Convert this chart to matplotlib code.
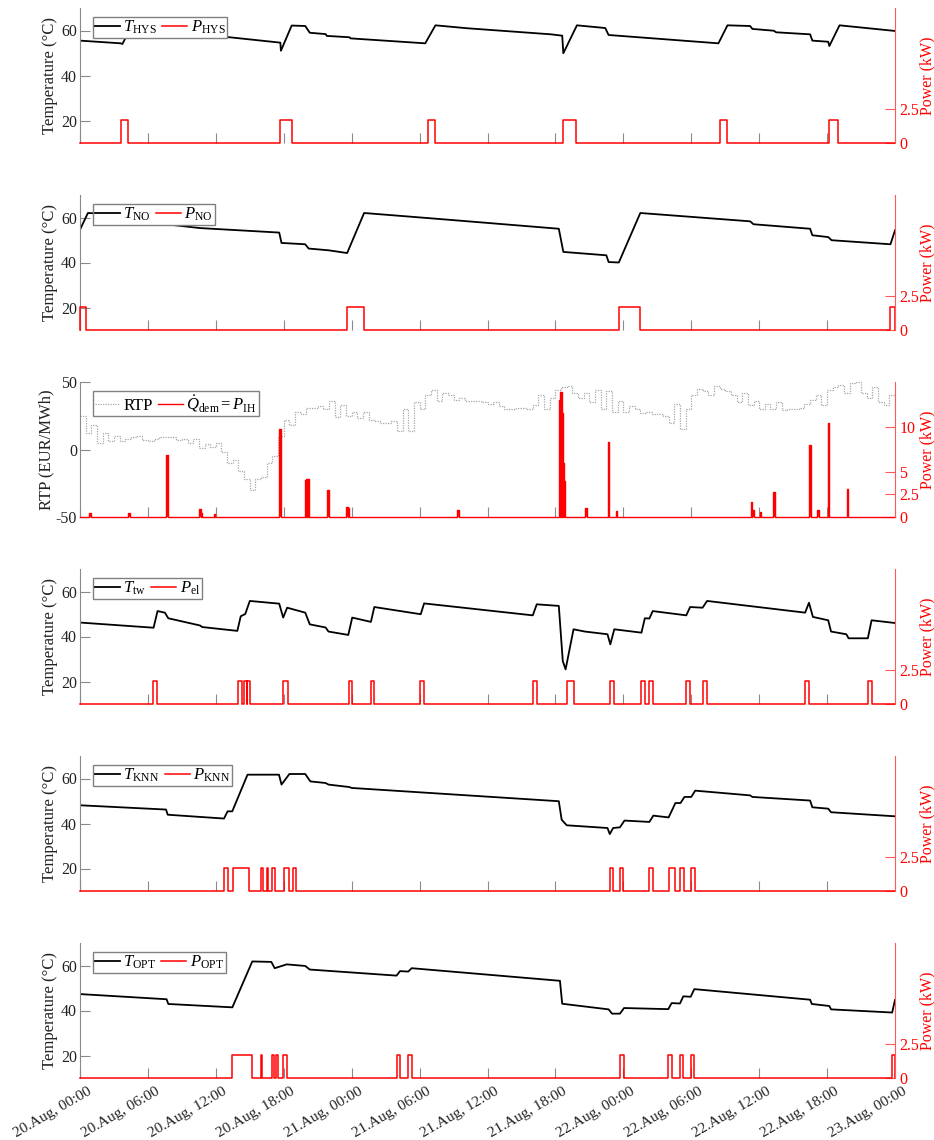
import matplotlib
matplotlib.use("Agg")
import matplotlib.pyplot as plt
import matplotlib.transforms as mtransforms

plt.rcParams['font.family'] = ['Liberation Serif', 'DejaVu Serif']
plt.rcParams['mathtext.fontset'] = 'custom'
plt.rcParams['mathtext.rm'] = 'Liberation Serif'
plt.rcParams['mathtext.it'] = 'Liberation Serif:italic'
plt.rcParams['mathtext.bf'] = 'Liberation Serif:bold'
plt.rcParams['axes.unicode_minus'] = False

# ---------------- data (hours since 20.Aug 00:00) ----------------
xtick_hours = [0, 6, 12, 18, 24, 30, 36, 42, 48, 54, 60, 66, 72]
xtick_labels = ["20.Aug, 00:00", "20.Aug, 06:00", "20.Aug, 12:00", "20.Aug, 18:00",
                "21.Aug, 00:00", "21.Aug, 06:00", "21.Aug, 12:00", "21.Aug, 18:00",
                "22.Aug, 00:00", "22.Aug, 06:00", "22.Aug, 12:00", "22.Aug, 18:00",
                "23.Aug, 00:00"]

P_ON = 1.7  # kW heating element power

# Panel 1: hysteresis
hys_t = [0, 3.6, 3.75, 4.3, 4.5, 13.2, 17.7, 17.75, 18.7, 19.9, 20.3, 21.7, 21.8, 23.8, 23.9,
         30.5, 31.4, 34.2, 41.6, 42.6, 42.7, 43.9, 46.4, 46.7, 56.4, 57.2, 59.2, 59.4, 61.3,
         61.5, 64.5, 64.7, 66.1, 66.2, 67.1, 72]
hys_T = [55.5, 54.3, 54.0, 59.5, 61.8, 57.0, 54.6, 51.0, 62.2, 62.0, 59.0, 58.4, 57.6, 57.0, 56.5,
         54.3, 62.3, 61.0, 58.3, 57.7, 49.9, 62.3, 61.1, 58.0, 54.3, 62.3, 62.0, 60.7, 59.9,
         59.2, 58.3, 55.5, 55.0, 53.1, 62.3, 59.8]
hys_on = [3.6, 17.7, 30.7, 42.65, 56.5, 66.2]
hys_off = [4.26, 18.7, 31.4, 43.85, 57.2, 67.0]

# Panel 2: no control (night tariff)
no_t = [0, 0.7, 1.2, 7.6, 10.6, 17.6, 17.8, 19.9, 20.2, 22.0, 23.6, 25.1, 29.6, 33.3, 42.3,
        42.7, 46.5, 46.7, 47.6, 49.5, 59.2, 59.5, 64.5, 64.7, 66.1, 66.4, 71.6, 72.0]
no_T = [54.6, 62.0, 61.9, 57.0, 55.3, 53.3, 48.7, 48.1, 46.2, 45.4, 44.2, 62.0, 60.2, 58.7, 55.0,
        44.7, 43.2, 40.2, 40.0, 62.0, 58.3, 57.0, 55.0, 52.1, 51.3, 49.9, 48.1, 54.3]
no_on = [0.0, 23.6, 47.6, 71.6]
no_off = [0.55, 25.1, 49.5, 72.0]

# Panel 3: real-time price and heat demand
rtp_t = [i * 0.5 for i in range(145)]
rtp = [25, 12, 18, 5, 12, 6, 10, 6, 8, 9, 10, 7, 6, 8, 9, 9, 9, 7, 8, 5,
       8, 1, 4, 2, 5, -2, -10, -8, -16, -22, -30, -22, -20, -10, -5, 10, 22, 18, 28, 26,
       31, 31, 32, 30, 36, 24, 33, 25, 28, 23, 28, 22, 21, 20, 20, 21, 14, 30, 14, 35,
       30, 40, 44, 36, 42, 40, 37, 38, 36, 36, 36, 35, 34, 35, 32, 30, 30, 31, 31, 30,
       33, 40, 30, 38, 44, 46, 47, 42, 38, 42, 35, 44, 30, 43, 28, 36, 28, 32, 30, 27,
       28, 26, 26, 25, 20, 34, 15, 30, 40, 45, 43, 40, 47, 45, 43, 40, 35, 42, 33, 36,
       30, 34, 30, 35, 29, 30, 30, 31, 34, 37, 40, 33, 44, 46, 48, 42, 49, 50, 42, 38,
       46, 35, 33, 40, 25]
dem_t = [0.88, 4.33, 7.7, 10.6, 10.75, 11.87, 17.67, 19.96, 20.06, 20.16, 21.9, 23.6, 23.7,
         33.4, 42.4, 42.5, 42.6, 42.7, 42.8, 44.7, 46.67, 47.4, 59.3, 59.45, 60.1, 61.3,
         64.5, 65.2, 66.1, 67.8]
dem_P = [0.45, 0.45, 6.9, 0.85, 0.4, 0.3, 9.8, 4.1, 4.2, 4.25, 3.05, 1.1, 1.0,
         0.73, 13.0, 13.9, 11.5, 6.0, 4.0, 1.0, 8.3, 0.64, 1.7, 0.8, 0.6, 2.8,
         8.0, 0.73, 10.4, 3.1]

# Panel 4: tap water / electric power
tw_t = [0, 6.5, 6.85, 7.5, 7.8, 10.6, 10.8, 13.9, 14.2, 14.6, 15.0, 17.6, 17.95, 18.3, 19.9,
        20.3, 21.7, 21.95, 23.7, 24.05, 25.7, 26.0, 30.1, 30.4, 40.0, 40.35, 42.3, 42.65,
        42.9, 43.6, 44.6, 46.6, 46.85, 47.2, 49.6, 49.9, 50.3, 50.6, 53.56, 53.9, 55.0,
        55.4, 64.06, 64.4, 64.75, 66.1, 66.35, 67.7, 67.9, 69.6, 69.93, 72]
tw_T = [46.2, 43.9, 51.3, 50.6, 48.1, 44.9, 44.2, 42.5, 49.0, 50.0, 55.8, 54.6, 48.4, 52.8, 50.6,
        45.4, 44.0, 42.2, 40.7, 48.4, 46.5, 53.1, 49.9, 54.7, 49.4, 54.3, 53.6, 29.1,
        25.4, 43.2, 42.2, 41.0, 36.5, 43.2, 41.7, 48.1, 48.0, 51.3, 49.4, 53.1, 52.8,
        55.8, 50.6, 55.0, 48.7, 47.2, 42.2, 41.0, 39.2, 39.2, 47.2, 46.0]
el_on = [6.48, 13.98, 14.49, 14.78, 17.96, 23.73, 25.67, 30.06, 40.0, 43.0, 46.85, 49.58,
         50.28, 53.56, 55.04, 64.06, 69.61]
el_off = [6.8, 14.33, 14.72, 15.04, 18.35, 24.05, 26.0, 30.39, 40.33, 43.6, 47.18, 49.9,
          50.6, 53.88, 55.41, 64.43, 69.93]

# Panel 5: KNN
knn_t = [0, 7.6, 7.75, 12.72, 13.04, 13.45, 14.8, 17.58, 17.8, 18.5, 19.9, 20.35, 21.7, 21.95,
         23.8, 24.0, 42.3, 42.55, 43.0, 46.6, 46.8, 47.1, 47.7, 48.1, 50.3, 50.65, 52.0, 52.6,
         53.05, 53.4, 54.0, 54.35, 59.2, 59.4, 64.5, 64.7, 66.1, 66.35, 72]
knn_T = [48.1, 46.2, 43.9, 42.2, 45.4, 45.4, 61.7, 61.7, 57.3, 62.0, 62.0, 58.7, 58.0, 57.3,
         56.2, 55.8, 49.9, 41.7, 39.2, 38.0, 35.3, 38.0, 38.3, 41.3, 40.7, 43.5, 42.7, 49.1,
         49.1, 51.8, 51.8, 54.6, 52.5, 51.8, 50.2, 47.2, 46.6, 45.0, 43.2]
knn_on = [12.72, 13.5, 15.96, 16.5, 17.0, 18.04, 18.8, 46.8, 47.7, 50.3, 52.0, 53.05, 54.0]
knn_off = [13.04, 14.9, 16.19, 16.65, 17.25, 18.5, 19.05, 47.1, 48.0, 50.65, 52.6, 53.4, 54.35]

# Panel 6: optimal
opt_t = [0, 7.65, 7.8, 13.46, 15.22, 16.9, 17.2, 18.26, 19.9, 20.3, 27.97, 28.27, 29.0, 29.3,
         42.4, 42.6, 46.7, 47.0, 47.7, 48.06, 51.97, 52.27, 53.0, 53.3, 53.95, 54.27, 64.5,
         64.65, 66.2, 66.35, 71.75, 72]
opt_T = [47.3, 45.0, 42.9, 41.4, 61.8, 61.6, 58.8, 60.5, 59.8, 58.2, 55.5, 57.5, 57.3, 58.8,
         53.2, 43.0, 40.5, 38.6, 38.6, 41.1, 40.6, 43.3, 43.1, 46.3, 46.1, 49.5, 44.8,
         42.9, 42.0, 40.5, 39.1, 44.7]
opt_on = [13.46, 15.99, 16.99, 17.31, 17.96, 27.97, 29.0, 47.7, 51.97, 53.0, 53.95, 71.7]
opt_off = [15.22, 16.1, 17.14, 17.46, 18.26, 28.27, 29.3, 48.06, 52.27, 53.3, 54.27, 72.0]

# ---------------- helpers ----------------
def pulses(on, off, level, tend=72.0):
    t, p = [0.0], [0.0]
    for s, e in zip(on, off):
        t += [s, s, e, e]
        p += [0.0, level, level, 0.0]
    t.append(tend)
    p.append(0.0)
    return t, p


def spikes(ts, ps, w=0.12, tend=72.0):
    t, p = [0.0], [0.0]
    for s, v in zip(ts, ps):
        t += [s - w / 2, s - w / 2, s + w / 2, s + w / 2]
        p += [0.0, v, v, 0.0]
    t.append(tend)
    p.append(0.0)
    return t, p


GRAY = '#8a8a8a'
RED = '#ff0000'
RED_AX = '#ff5a5a'
TXT = '#222222'
W, H = 934, 1140
fig = plt.figure(figsize=(W / 100, H / 100), dpi=100)

left_px, right_px = 80, 895
panel_h = 135
axw = right_px - left_px


def make_axes(k):
    top = 8 + 187 * k
    bottom = top + panel_h
    ax = fig.add_axes([left_px / W, 1 - bottom / H, axw / W, panel_h / H])
    ax2 = ax.twinx()
    ax.set_xlim(0, 72)
    ax.set_xticks(xtick_hours)
    for s in ['top', 'right', 'bottom']:
        ax.spines[s].set_visible(False)
    ax.spines['left'].set_color(GRAY)
    for s in ['top', 'left', 'bottom']:
        ax2.spines[s].set_visible(False)
    ax2.spines['right'].set_color(RED_AX)
    ax.tick_params(axis='y', direction='in', length=7, color=GRAY, labelsize=11.5,
                   labelcolor=TXT, pad=2)
    ax.tick_params(axis='x', direction='in', length=7, color=GRAY, labelsize=11,
                   labelcolor=TXT, pad=5)
    ax2.tick_params(axis='y', direction='in', length=7, color=RED_AX, labelsize=11.5,
                    labelcolor=RED, pad=3)
    ax2.set_ylabel('Power (kW)', color=RED, fontsize=11.5)
    ax2.yaxis.set_label_coords((919 - left_px) / axw, 0.5)
    if k == 5:
        ax.set_xticklabels(xtick_labels, rotation=30, ha='right', rotation_mode='anchor')
        shift = mtransforms.ScaledTranslation(0.07, 0, fig.dpi_scale_trans)
        for lab in ax.get_xticklabels():
            lab.set_transform(lab.get_transform() + shift)
    else:
        ax.set_xticklabels([])
    return ax, ax2


def legend(ax2, handles, labels, top=0.935):
    leg = ax2.legend(handles, labels, loc='upper left', bbox_to_anchor=(0.016, top),
                     ncol=2, fontsize=12, handlelength=1.5, handletextpad=0.2,
                     columnspacing=0.3, borderpad=0.12, borderaxespad=0,
                     fancybox=False, framealpha=1, edgecolor='#808080')
    leg.get_frame().set_linewidth(1.0)


temp_panels = [
    (0, hys_t, hys_T, hys_on, hys_off, 'HYS'),
    (1, no_t, no_T, no_on, no_off, 'NO'),
    (3, tw_t, tw_T, el_on, el_off, None),
    (4, knn_t, knn_T, knn_on, knn_off, 'KNN'),
    (5, opt_t, opt_T, opt_on, opt_off, 'OPT'),
]

for k, tt, TT, on, off, tag in temp_panels:
    ax, ax2 = make_axes(k)
    l1, = ax.plot(tt, TT, color='black', lw=1.3)
    pt, pp = pulses(on, off, P_ON)
    l2, = ax2.plot(pt, pp, color=RED, lw=1.1, clip_on=False)
    ax.set_ylim(10, 70)
    ax.set_yticks([20, 40, 60])
    ax2.set_ylim(0, 10)
    ax2.set_yticks([0, 2.5])
    ax2.set_yticklabels(['0', '2.5'])
    ax.set_ylabel('Temperature (°C)', fontsize=12, color=TXT)
    ax.yaxis.set_label_coords((57.5 - left_px) / axw, 0.5)
    if tag is None:
        labs = [r'$T_{\mathrm{tw}}$', r'$P_{\mathrm{el}}$']
    else:
        labs = [r'$T_{\mathrm{%s}}$' % tag, r'$P_{\mathrm{%s}}$' % tag]
    legend(ax2, [l1, l2], labs)

# Panel 3
ax, ax2 = make_axes(2)
l1, = ax.plot(rtp_t, rtp, drawstyle='steps-post', color='#a8a8a8', lw=0.9,
              linestyle=(0, (1, 1)))
st, sp = spikes(dem_t, dem_P)
ax2.fill_between(st, sp, 0, color=RED, lw=0)
l2, = ax2.plot(st, sp, color=RED, lw=1.0, clip_on=False)
ax.set_ylim(-50, 50)
ax.set_yticks([-50, 0, 50])
ax2.set_ylim(0, 15)
ax2.set_yticks([0, 2.5, 5, 10])
ax2.set_yticklabels(['0', '2.5', '5', '10'])
ax.set_ylabel('RTP (EUR/MWh)', fontsize=12, color=TXT)
ax.yaxis.set_label_coords((54 - left_px) / axw, 0.5)
legend(ax2, [l1, l2], ['RTP', r'$\dot{Q}_{\mathrm{dem}}=P_{\mathrm{IH}}$'], top=0.93)

fig.savefig('out.png', dpi=100)
